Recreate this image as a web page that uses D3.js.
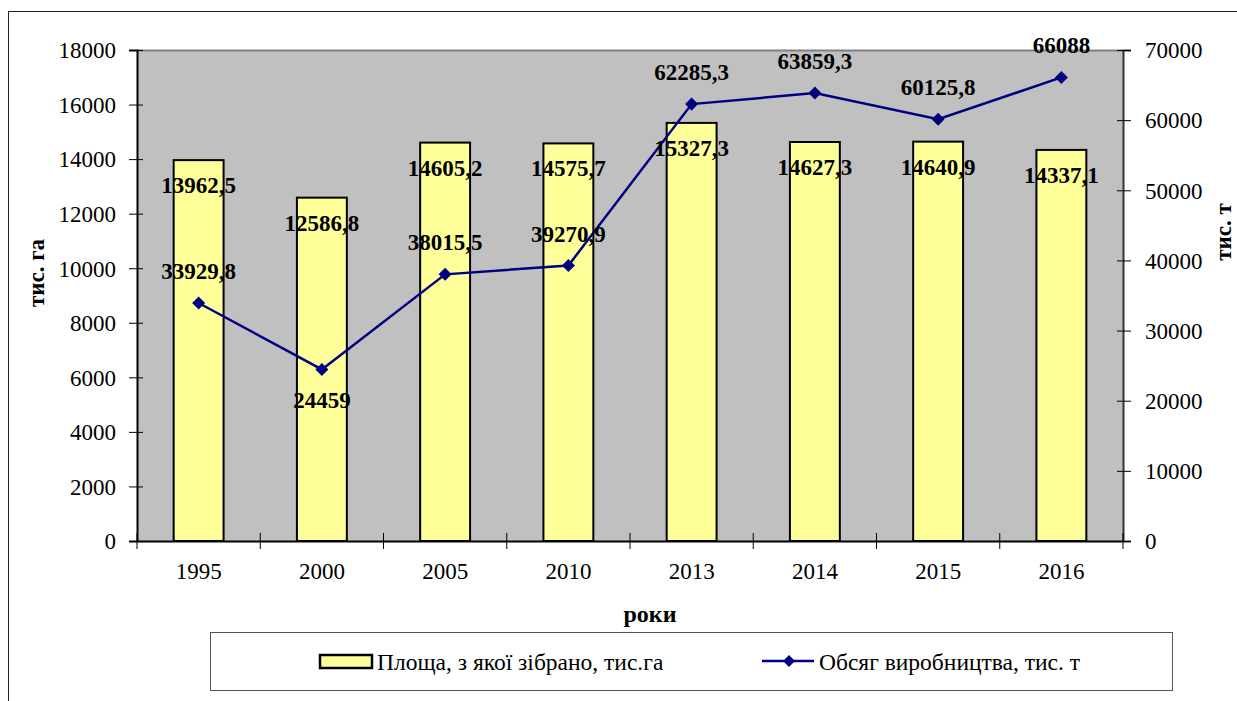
<!DOCTYPE html>
<html lang="uk">
<head>
<meta charset="UTF-8">
<title>Площа та обсяг виробництва</title>
<style>
    body { margin: 0; background: #fff; }
</style>
</head>
<body>
<div id="chart"></div>
<script src="https://cdn.jsdelivr.net/npm/d3@7/dist/d3.min.js"></script>
<script>
"use strict";

// data
var years = ["1995", "2000", "2005", "2010", "2013", "2014", "2015", "2016"];
var area = [13962.5, 12586.8, 14605.2, 14575.7, 15327.3, 14627.3, 14640.9, 14337.1];
var production = [33929.8, 24459, 38015.5, 39270.9, 62285.3, 63859.3, 60125.8, 66088];
var leftTicks = d3.range(0, 18001, 2000);
var rightTicks = d3.range(0, 70001, 10000);
var areaName = "Площа, з якої зібрано, тис.га";
var prodName = "Обсяг виробництва, тис. т";

(function () {
    var width = 1237, height = 701;
    var plot = { left: 137, right: 1123, top: 50, bottom: 541 };
    var serif = "'Liberation Serif', 'Times New Roman', 'DejaVu Serif', serif";

    var svg = d3.select("#chart").append("svg")
        .attr("width", width)
        .attr("height", height)
        .attr("font-family", serif);

    // outer frame
    svg.append("rect")
        .attr("x", 8.5).attr("y", 11.5)
        .attr("width", 1400).attr("height", 900)
        .attr("fill", "none").attr("stroke", "#222").attr("stroke-width", 1);

    var x = d3.scaleBand().domain(years).range([plot.left, plot.right]).padding(0);
    var yL = d3.scaleLinear().domain([0, 18000]).range([plot.bottom, plot.top]);
    var yR = d3.scaleLinear().domain([0, 70000]).range([plot.bottom, plot.top]);
    var barW = x.bandwidth() * 0.405;
    var fmt = function (v) { return String(v).replace(".", ","); };
    var cx = function (i) { return x(years[i]) + x.bandwidth() / 2; };

    // plot background
    svg.append("rect")
        .attr("x", plot.left).attr("y", plot.top)
        .attr("width", plot.right - plot.left).attr("height", plot.bottom - plot.top)
        .attr("fill", "#c0c0c0");
    svg.append("line")
        .attr("x1", plot.left).attr("x2", plot.right)
        .attr("y1", plot.top + 0.5).attr("y2", plot.top + 0.5)
        .attr("stroke", "#808080").attr("stroke-width", 2);

    // bars
    svg.selectAll("rect.bar")
        .data(area)
        .enter()
        .append("rect")
        .attr("class", "bar")
        .attr("x", function (d, i) { return cx(i) - barW / 2; })
        .attr("y", function (d) { return yL(d); })
        .attr("width", barW)
        .attr("height", function (d) { return plot.bottom - yL(d); })
        .attr("fill", "#ffff99")
        .attr("stroke", "#000")
        .attr("stroke-width", 2);

    // left axis
    var axL = svg.append("g").attr("transform", "translate(" + plot.left + ",0)")
        .call(d3.axisLeft(yL).tickValues(leftTicks).tickSize(8).tickPadding(13).tickFormat(d3.format("d")))
        .attr("font-family", serif).attr("font-size", 23);
    axL.select(".domain").attr("stroke", "#000").attr("stroke-width", 2);
    axL.selectAll(".tick line").attr("x2", -8).attr("x1", 6).attr("stroke", "#000");
    axL.selectAll(".tick text").attr("dy", "0.34em").attr("fill", "#000");

    // right axis
    var axR = svg.append("g").attr("transform", "translate(" + plot.right + ",0)")
        .call(d3.axisRight(yR).tickValues(rightTicks).tickSize(8).tickPadding(14).tickFormat(d3.format("d")))
        .attr("font-family", serif).attr("font-size", 23);
    axR.select(".domain").attr("stroke", "#333").attr("stroke-width", 2);
    axR.selectAll(".tick line").attr("x1", -6).attr("x2", 8).attr("stroke", "#000");
    axR.selectAll(".tick text").attr("dy", "0.34em").attr("fill", "#000");

    // bottom axis
    var axB = svg.append("g").attr("transform", "translate(0," + plot.bottom + ")")
        .call(d3.axisBottom(x).tickSize(0).tickPadding(22))
        .attr("font-family", serif).attr("font-size", 23);
    axB.select(".domain").attr("stroke", "#000").attr("stroke-width", 2);
    axB.selectAll(".tick text").attr("fill", "#000");
    axB.selectAll("line.sep")
        .data(years.concat(["end"]))
        .enter()
        .append("line")
        .attr("class", "sep")
        .attr("x1", function (d, i) { return i < years.length ? x(d) : plot.right; })
        .attr("x2", function (d, i) { return i < years.length ? x(d) : plot.right; })
        .attr("y1", -8).attr("y2", 8)
        .attr("stroke", "#000");

    // line series
    var line = d3.line()
        .x(function (d, i) { return cx(i); })
        .y(function (d) { return yR(d); });
    svg.append("path")
        .datum(production)
        .attr("d", line)
        .attr("fill", "none")
        .attr("stroke", "#000080")
        .attr("stroke-width", 2.5);
    svg.selectAll("path.mark")
        .data(production)
        .enter()
        .append("path")
        .attr("class", "mark")
        .attr("d", d3.symbol().type(d3.symbolSquare).size(85))
        .attr("transform", function (d, i) {
            return "translate(" + cx(i) + "," + yR(d) + ") rotate(45)";
        })
        .attr("fill", "#000080");

    // bar value labels
    svg.selectAll("text.barval")
        .data(area)
        .enter()
        .append("text")
        .attr("font-size", 23).attr("font-weight", 700)
        .attr("text-anchor", "middle")
        .attr("x", function (d, i) { return cx(i); })
        .attr("y", function (d) { return yL(d) + 33; })
        .text(fmt);

    // line value labels
    svg.selectAll("text.lineval")
        .data(production)
        .enter()
        .append("text")
        .attr("font-size", 23).attr("font-weight", 700)
        .attr("text-anchor", "middle")
        .attr("x", function (d, i) { return cx(i); })
        .attr("y", function (d, i) { return i === 1 ? yR(d) + 39 : yR(d) - 24; })
        .text(fmt);

    // axis titles
    svg.append("text")
        .attr("font-size", 23).attr("font-weight", 700)
        .attr("text-anchor", "middle")
        .attr("transform", "translate(44,273) rotate(-90)")
        .text("тис. га");
    svg.append("text")
        .attr("font-size", 23).attr("font-weight", 700)
        .attr("text-anchor", "middle")
        .attr("transform", "translate(1231,232) rotate(-90)")
        .text("тис. т");
    svg.append("text")
        .attr("font-size", 24).attr("font-weight", 700)
        .attr("text-anchor", "middle")
        .attr("x", 650).attr("y", 622)
        .text("роки");

    // legend
    var lg = svg.append("g");
    lg.append("rect")
        .attr("x", 210.5).attr("y", 632.5)
        .attr("width", 962).attr("height", 58)
        .attr("fill", "#fff").attr("stroke", "#555");
    lg.append("rect")
        .attr("x", 320).attr("y", 655)
        .attr("width", 52).attr("height", 13)
        .attr("fill", "#ffff99").attr("stroke", "#000").attr("stroke-width", 2.5);
    lg.append("text")
        .attr("font-size", 23.5)
        .attr("x", 377).attr("y", 670)
        .text(areaName);
    lg.append("line")
        .attr("x1", 762).attr("x2", 814)
        .attr("y1", 661).attr("y2", 661)
        .attr("stroke", "#000080").attr("stroke-width", 2.5);
    lg.append("path")
        .attr("d", d3.symbol().type(d3.symbolSquare).size(70))
        .attr("transform", "translate(789,661) rotate(45)")
        .attr("fill", "#000080");
    lg.append("text")
        .attr("font-size", 23.5)
        .attr("x", 819).attr("y", 670)
        .text(prodName);
})();
</script>
</body>
</html>
